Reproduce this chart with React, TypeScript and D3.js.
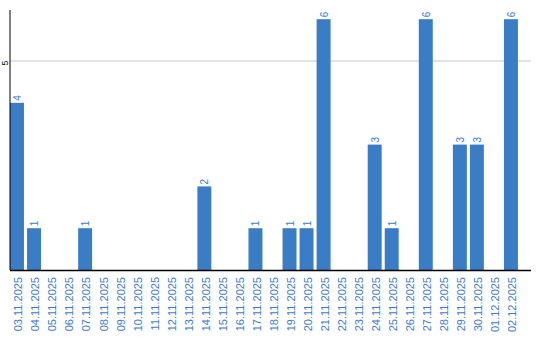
import React from "react";
import * as d3 from "d3";

const dates = [
  "03.11.2025", "04.11.2025", "05.11.2025", "06.11.2025", "07.11.2025",
  "08.11.2025", "09.11.2025", "10.11.2025", "11.11.2025", "12.11.2025",
  "13.11.2025", "14.11.2025", "15.11.2025", "16.11.2025", "17.11.2025",
  "18.11.2025", "19.11.2025", "20.11.2025", "21.11.2025", "22.11.2025",
  "23.11.2025", "24.11.2025", "25.11.2025", "26.11.2025", "27.11.2025",
  "28.11.2025", "29.11.2025", "30.11.2025", "01.12.2025", "02.12.2025",
];
const counts = [4, 1, 0, 0, 1, 0, 0, 0, 0, 0, 0, 2, 0, 0, 1, 0, 1, 1, 6, 0, 0, 3, 1, 0, 6, 0, 3, 3, 0, 6];
const yTicks = [5];

const W = 540;
const H = 340;
const left = 10;
const bottom = 270;
const top = 10;
const axisRight = 531;
const BLUE = "#3b7dc4";

export default function App() {
  const x = d3.scaleBand<string>().domain(dates).range([left, 521]).paddingInner(0.18).paddingOuter(0.09).align(0);
  const y = d3.scaleLinear().domain([0, 6.22]).range([bottom, top]);
  const font = "Liberation Sans, Arial, sans-serif";
  return (
    <svg width={W} height={H} style={{ position: "absolute", left: 0, top: 0 }} fontFamily={font}>
      {yTicks.map((t) => (
        <g key={t}>
          <line x1={left} x2={axisRight} y1={y(t)} y2={y(t)} stroke="#c8c8c8" strokeWidth={1} />
          <text transform={`translate(4.5,${y(t) + 2}) rotate(-90)`} textAnchor="middle" dy="0.35em" fontSize={9} fill="#000">{t}</text>
        </g>
      ))}
      {dates.map((d, i) => {
        const v = counts[i];
        const bx = x(d)!;
        const bw = x.bandwidth();
        const cx = bx + bw / 2;
        return (
          <g key={d}>
            {v > 0 && (
              <>
                <rect x={bx} y={y(v)} width={bw} height={bottom - y(v)} fill={BLUE} />
                <text transform={`translate(${cx + 0.5},${y(v) - 2}) rotate(-90)`} textAnchor="start" dy="0.35em" fontSize={10} fill={BLUE}>{v}</text>
              </>
            )}
            <text transform={`translate(${cx + 1.5},277) rotate(-90)`} textAnchor="end" dy="0.35em" fontSize={11} fill={BLUE}>{d}</text>
          </g>
        );
      })}
      <line x1={left} x2={left} y1={top} y2={bottom} stroke="#000" strokeWidth={1} />
      <line x1={left} x2={axisRight} y1={bottom + 0.5} y2={bottom + 0.5} stroke="#000" strokeWidth={1.5} />
    </svg>
  );
}
